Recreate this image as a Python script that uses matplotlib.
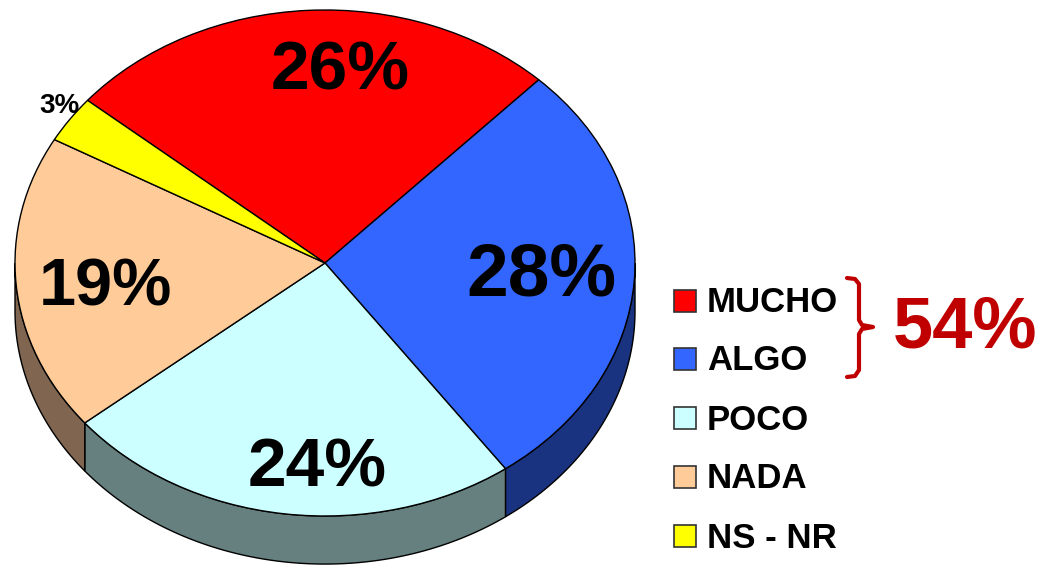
import numpy as np
import matplotlib.pyplot as plt
from matplotlib.patches import Polygon, Rectangle
from matplotlib.lines import Line2D

plt.rcParams['font.family'] = ['Liberation Sans', 'DejaVu Sans']

labels = ['MUCHO', 'ALGO', 'POCO', 'NADA', 'NS - NR']
values = [26, 28, 24, 19, 3]
pct_labels = ['26%', '28%', '24%', '19%', '3%']
colors = ['#FF0000', '#3366FF', '#CCFFFF', '#FFCC99', '#FFFF00']
side_colors = ['#800000', '#1A3380', '#668080', '#806650', '#808000']
group_label = '54%'

# look of the tilted pie (pixels)
W, H = 1041, 567
CX, CY, RX, RY = 325, 263, 310, 253
DEPTH = 0.19
START = 140
label_r = [0.759, 0.699, 0.812, 0.717, 1.057]
label_dt = [-6.8, -0.35, 5.8, 3.1, -1.4]   # degrees, nudge from wedge middle
label_size = [50, 54, 50, 48, 20]


def px(x, y):
    return x / W, 1 - y / H


fig = plt.figure(figsize=(W / 100, H / 100), dpi=100)
ax = fig.add_axes([0, 0, 1, 1])

wedges, _ = ax.pie(values, colors=colors, startangle=START, counterclock=False,
                   wedgeprops=dict(edgecolor='black', linewidth=1, zorder=2))

# side of the cylinder, only the front half is visible
total = float(sum(values))
bounds = START - np.concatenate([[0], np.cumsum(values)]) / total * 360
for i in range(len(values)):
    t_hi, t_lo = bounds[i], bounds[i + 1]
    for k in range(-2, 2):
        a0 = max(t_lo, -180 + 360 * k)
        a1 = min(t_hi, 0 + 360 * k)
        if a1 <= a0:
            continue
        t = np.radians(np.linspace(a0, a1, 100))
        top = np.column_stack([np.cos(t), np.sin(t)])
        bot = np.column_stack([np.cos(t), np.sin(t) - DEPTH])[::-1]
        ax.add_patch(Polygon(np.vstack([top, bot]), closed=True,
                             facecolor=side_colors[i], edgecolor='black',
                             linewidth=1, zorder=1))

# percentage labels
for i, txt in enumerate(pct_labels):
    mid = np.radians((bounds[i] + bounds[i + 1]) / 2 + label_dt[i])
    ax.text(label_r[i] * np.cos(mid), label_r[i] * np.sin(mid), txt,
            ha='center', va='center', fontsize=label_size[i],
            fontweight='bold', color='black', zorder=3)

ax.set_aspect('auto')
ax.set_xlim(-CX / RX, (W - CX) / RX)
ax.set_ylim((CY - H) / RY, CY / RY)
ax.axis('off')

# legend
row_y = [301, 359, 418, 477, 536]
for lab, col, y in zip(labels, colors, row_y):
    x0, y0 = px(674, y + 11)
    fig.add_artist(Rectangle((x0, y0), 22 / W, 22 / H, transform=fig.transFigure,
                             facecolor=col, edgecolor='#333333', linewidth=1.2))
    fig.text(*px(707, y + 2), lab, ha='left', va='center', fontsize=25,
             fontweight='bold', color='black')

# bracket grouping MUCHO + ALGO
bx = [847, 855, 859, 859, 862, 873, 862, 859, 859, 855, 847]
by = [278, 279, 284, 320, 325, 327, 329, 334, 370, 376, 377]
fig.add_artist(Line2D([x / W for x in bx], [1 - y / H for y in by],
                      transform=fig.transFigure, color='#C00000', linewidth=3,
                      solid_joinstyle='round', solid_capstyle='round'))
fig.text(*px(893, 329), group_label, ha='left', va='center', fontsize=52,
         fontweight='bold', color='#C00000')

fig.savefig('out.png', dpi=100)
